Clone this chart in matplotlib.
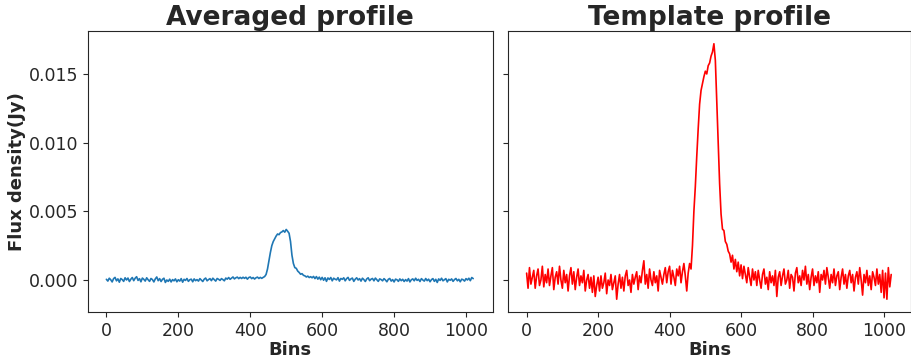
import matplotlib.pyplot as plt
import numpy as np
import seaborn as sns

# flux values, in units of 1e-4 Jy, one value every 4 bins
BIN_STEP = 4
UNIT = 1e-4

averaged = [
    0.5, -0.8, 1.3, 0.2, -1.4, 1.0, 1.9, -0.6, 0.8, -1.6, 1.1, 0.3, -1.0, 1.6, 0.0, 1.4,
    -1.1, 0.6, 1.8, -0.5, 1.3, 2.4, -0.3, 1.0, -1.3, 1.4, 0.5, -0.8, 1.6, 0.2, -1.0, 1.1,
    0.3, -1.4, 0.8, 2.2, -0.5, 1.0, -1.1, 0.5, 1.3, -1.8, 0.0, -1.0, 0.6, -1.4, 0.3, -0.6,
    0.8, -1.3, 0.2, -0.8, 1.0, -1.6, 0.5, -0.3, 1.1, -1.0, 0.2, 0.6, -1.3, 0.8, -0.5, 0.3,
    -0.8, 1.0, 0.0, -1.1, 0.6, 1.4, -0.6, 0.3, 1.0, -0.5, 1.3, 0.2, -0.8, 1.1, 0.5, -0.3,
    1.0, 0.3, -0.6, 1.4, 0.6, 1.8, 0.5, 1.3, 2.2, 0.8, 1.6, 2.1, 1.0, 1.9, 1.1, 2.0,
    1.2, 2.0, 0.6, 1.8, 2.2, 1.0, 1.8, 0.7, 1.6, 2.1, 1.1, 1.9, 1.2, 1.9, 2.5, 4.0,
    8.0, 14.0, 20.0, 25.0, 28.0, 30.0, 32.0, 33.5, 33.0, 34.5, 35.0, 36.0, 34.8, 36.8, 35.5, 34.0,
    28.0, 18.0, 12.0, 9.0, 8.5, 6.5, 5.5, 4.2, 4.6, 3.4, 3.0, 2.2, 2.8, 1.8, 2.4, 1.6,
    2.6, 1.0, 2.5, 0.6, 2.1, 0.2, 1.9, -0.2, 1.6, -1.0, 1.5, 0.4, 1.8, -0.6, 1.3, 0.6,
    0.1, 1.7, -0.8, 1.1, 0.5, 1.6, -0.6, 1.0, 1.9, -0.3, 0.8, 1.4, -1.0, 0.6, 1.6, 0.0,
    1.0, -0.8, 1.3, 0.3, -1.1, 0.8, 1.6, -0.5, 0.6, 1.1, -0.6, 1.4, 0.2, -1.0, 0.8, 0.3,
    -0.6, 1.0, 0.0, -1.3, 0.5, 1.1, -0.8, 0.3, -1.4, 0.6, 0.2, -1.0, 0.8, -0.5, 0.5, -1.1,
    0.3, -0.8, 1.0, -1.4, 0.2, 0.8, -0.6, 1.3, -0.3, 0.5, -1.1, 1.0, 0.0, -0.8, 1.1, -0.5,
    0.6, -1.3, 0.3, 1.0, -1.0, 0.5, -1.8, 0.8, -0.3, 1.3, -0.6, 0.2, 1.0, -1.4, 0.5, -0.2,
    0.8, -1.0, 0.3, 1.1, -0.6, 0.5, -1.3, 0.6, 0.2, -0.8, 1.0, 0.0, 1.3, -0.5, 1.8, 1.0,
]

template = [
    5, -6, 9, -3, 2, 7, -6, 3, 8, -4, 0, 10, -5, 4, -2, 8,
    -4, 3, 9, -7, 2, 6, -3, 10, 0, -6, 7, -2, 4, -8, 3, 9,
    -3, 6, -7, 2, 8, -4, 3, -2, 7, -8, 0, 4, -6, 2, -9, 3,
    -12, -4, 2, -8, 3, -6, -2, 5, -10, 0, -4, 4, -7, -2, 3, -14,
    -3, 4, -6, 2, -8, 3, 7, -4, 0, -9, 4, -3, 2, 6, -7, 3,
    -2, 7, 14, -3, 4, -6, 8, 0, -4, 6, -2, 3, -8, 7, 2, -3,
    4, 9, -2, 6, 10, -3, 7, 2, -4, 8, 3, 10, -2, 6, 12, 3,
    -8, 5, 12, 8, 25, 50, 68, 90, 110, 128, 138, 143, 148, 152, 150, 156,
    158, 163, 166, 172, 160, 130, 98, 70, 48, 37, 36, 28, 26, 21, 19, 13,
    18, 8, 15, 6, 13, 3, 11, 1, 10, 4, -2, 9, 2, -4, 8, 0,
    6, -4, 7, 0, -6, 4, 8, -3, 2, -7, 6, -2, 3, -4, 7, -12,
    2, 6, -4, 3, 8, -3, 0, 7, -6, 4, 2, -8, 5, 9, -2, 3,
    -4, 7, 0, 10, -3, 4, -7, 2, 8, -4, 3, -2, 6, -9, 4, 0,
    7, -3, 9, 2, -6, 4, -2, 8, -4, 3, 6, -7, 2, 8, -3, 4,
    -6, 3, 7, -2, 4, -8, 2, 6, -3, 9, 0, -11, 4, -2, 7, -4,
    3, -7, 6, 2, -4, 8, -3, 4, -9, 7, -13, 5, -14, 9, -5, 4,
]


def main() -> None:
    sns.set_style("ticks")
    plt.rcParams["font.family"] = ["DejaVu Sans"]

    bins = np.arange(len(averaged)) * BIN_STEP
    avg = np.array(averaged) * UNIT
    tmpl = np.array(template) * UNIT

    fig = plt.figure(figsize=(9.11, 3.58), dpi=100)
    ax1 = fig.add_axes([0.0966, 0.1285, 0.4442, 0.785])
    ax2 = fig.add_axes([0.558, 0.1285, 0.4415, 0.785], sharey=ax1)

    ax1.plot(bins, avg, color="#1f77b4", lw=1.2)
    ax2.plot(bins, tmpl, color="red", lw=1.2)

    ax1.set_title("Averaged profile", fontsize=19, fontweight="bold", pad=4)
    ax2.set_title("Template profile", fontsize=19, fontweight="bold", pad=4)
    ax1.set_ylabel("Flux density(Jy)", fontsize=13, fontweight="bold", labelpad=2)
    for ax in (ax1, ax2):
        ax.set_xlabel("Bins", fontsize=13, fontweight="bold", labelpad=1)
        ax.set_xlim(-51.15, 1074.15)
        ax.set_xticks([0, 200, 400, 600, 800, 1000])
        ax.tick_params(labelsize=12.5)
    ax1.set_ylim(-0.00233, 0.01813)
    ax1.set_yticks([0.0, 0.005, 0.010, 0.015])
    ax1.yaxis.set_major_formatter(plt.FormatStrFormatter("%.3f"))
    plt.setp(ax2.get_yticklabels(), visible=False)

    fig.savefig("out.png", dpi=100)
    plt.close(fig)


if __name__ == "__main__":
    main()
